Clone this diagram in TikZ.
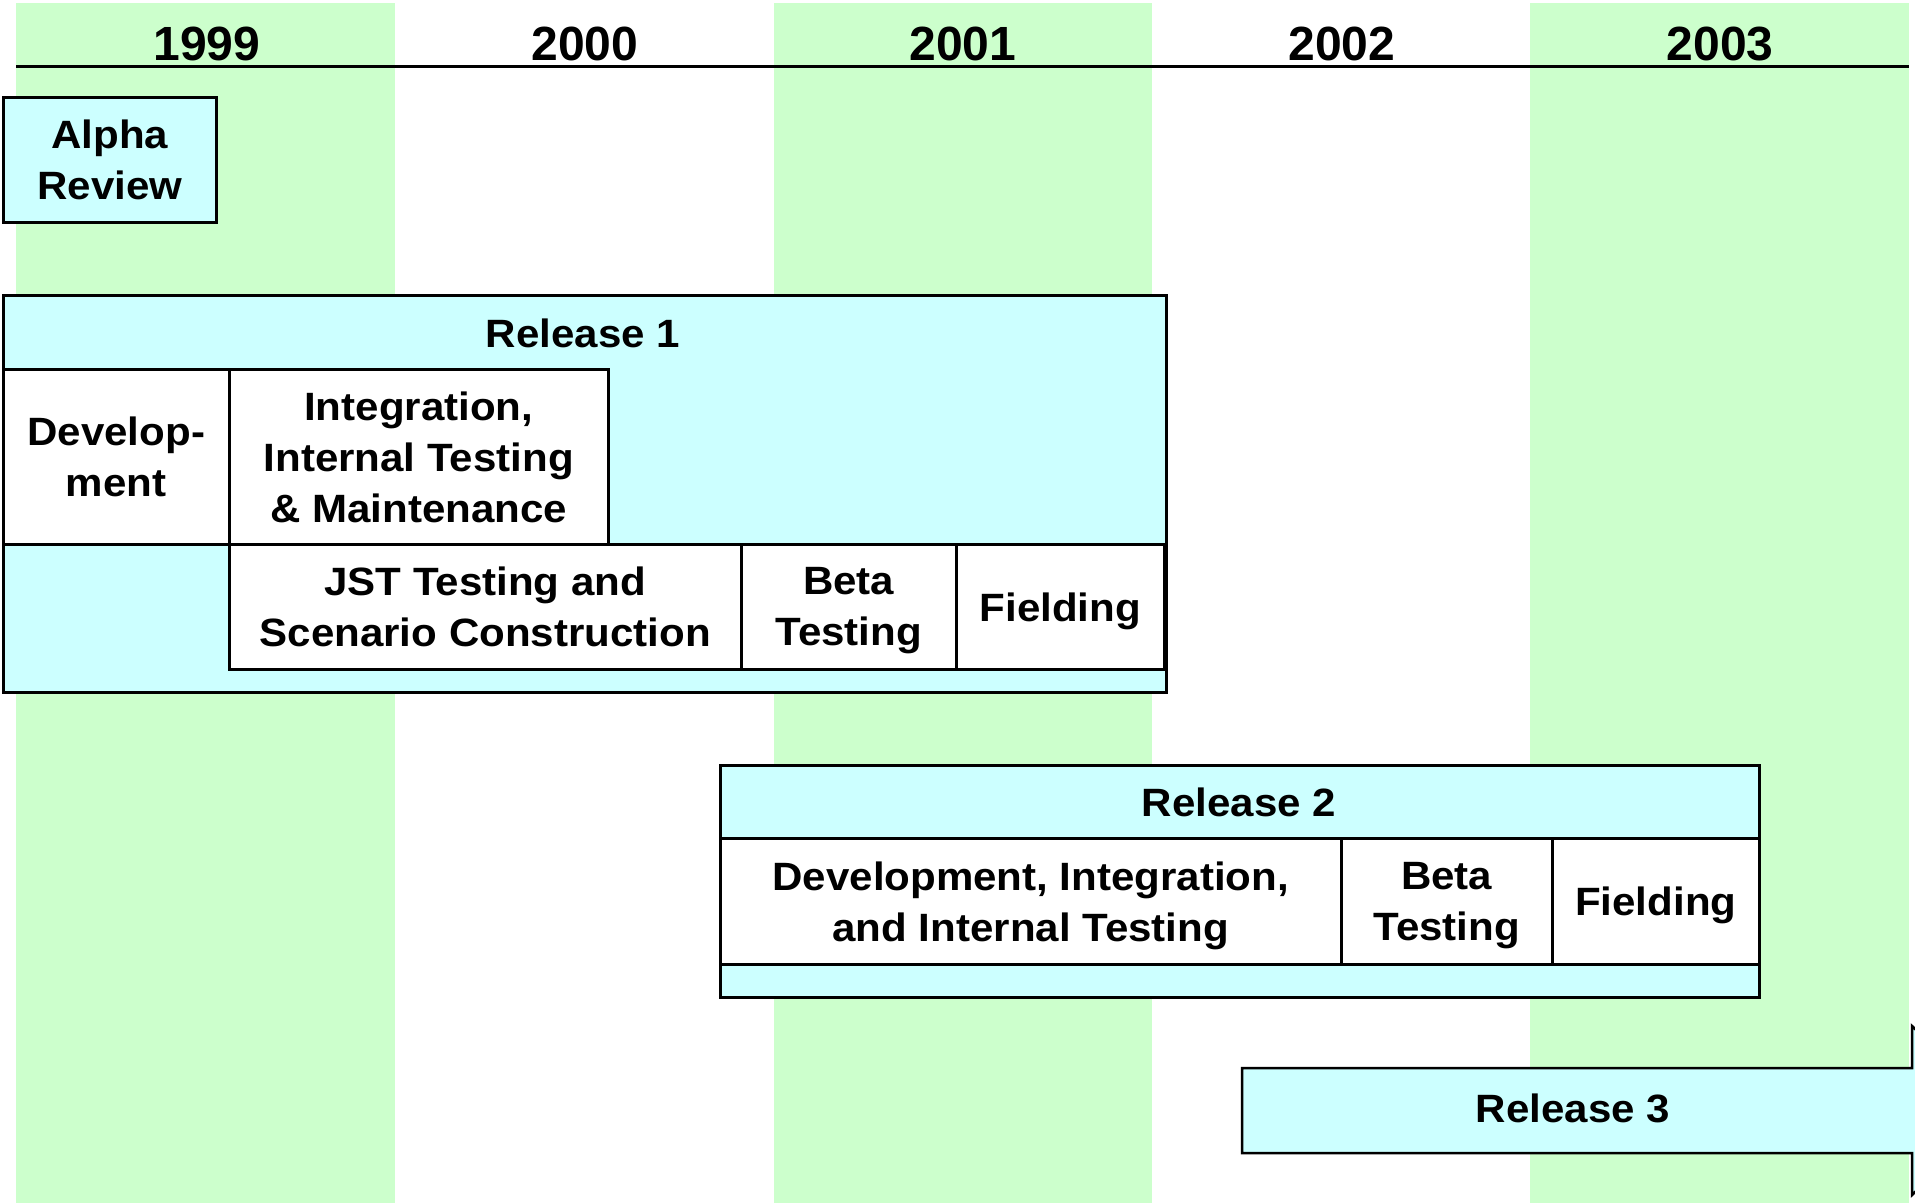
\documentclass[tikz,border=0pt]{standalone}
\usepackage{fontspec}
\setmainfont{Liberation Sans}
\newfontfamily\boxfont{Liberation Sans}[FakeStretch=1.065]
\begin{document}
\begin{tikzpicture}[x=1pt,y=-1pt,
  box/.style={draw=black, line width=2.5pt, inner sep=0pt, anchor=north west, align=center,
    text depth=0pt, font=\fontsize{39.5}{51}\boxfont\bfseries},
  cyanbox/.style={box, fill=cyanfill},
  whitebox/.style={box, fill=white},
  lbl/.style={inner sep=0pt, align=center, font=\fontsize{39.5}{51}\boxfont\bfseries},
  yearlbl/.style={inner sep=0pt, anchor=base, font=\fontsize{48}{58}\selectfont\bfseries},
]
\definecolor{greenfill}{HTML}{CCFFCC}
\definecolor{cyanfill}{HTML}{CCFFFF}
\useasboundingbox (0,0) rectangle (1915,1203);
\fill[white] (0,0) rectangle (1915,1203);
% stripes
\fill[greenfill] (16,3) rectangle (395,1203);
\fill[greenfill] (774,3) rectangle (1152,1203);
\fill[greenfill] (1530,3) rectangle (1909,1203);
% timeline
\coordinate (tl) at (16,66);
\coordinate (tr) at (1909,66);
\draw[line width=3pt] (tl) -- (tr);
\node[yearlbl] (y1999) at (207,60) {1999};
\node[yearlbl] (y2000) at (585,60) {2000};
\node[yearlbl] (y2001) at (963,60) {2001};
\node[yearlbl] (y2002) at (1342,60) {2002};
\node[yearlbl] (y2003) at (1720,60) {2003};
% Alpha review
\node[cyanbox, minimum width=213pt, minimum height=125pt] (alpha) at (2,96) {Alpha\\Review};
% Release 1
\node[cyanbox, minimum width=1163pt, minimum height=397pt] (r1) at (2,294) {};
\node[lbl] (r1lbl) at (583,333) {Release 1};
\node[whitebox, minimum width=226pt, minimum height=175pt] (dev1) at (2,368) {Develop-\\ment};
\node[whitebox, minimum width=379pt, minimum height=175pt] (int1) at (228,368) {Integration,\\Internal Testing\\\& Maintenance};
\node[whitebox, minimum width=512pt, minimum height=125pt] (jst1) at (228,543) {JST Testing and\\Scenario Construction};
\node[whitebox, minimum width=215pt, minimum height=125pt] (beta1) at (740,543) {Beta\\Testing};
\node[whitebox, minimum width=208pt, minimum height=125pt] (field1) at (955,543) {Fielding};
% Release 2
\node[cyanbox, minimum width=1039pt, minimum height=232pt] (r2) at (719,764) {};
\node[lbl] (r2lbl) at (1239,802) {Release 2};
\node[whitebox, minimum width=621pt, minimum height=126pt] (dev2) at (719,837) {Development, Integration,\\and Internal Testing};
\node[whitebox, minimum width=211pt, minimum height=126pt] (beta2) at (1340,837) {Beta\\Testing};
\node[whitebox, minimum width=207pt, minimum height=126pt] (field2) at (1551,837) {Fielding};
% Release 3 (block arrow, clipped at the page edge)
\begin{scope}
\clip (0,0) rectangle (1915,1203);
\filldraw[fill=cyanfill, draw=black, line width=2.5pt]
  (1242,1068) -- (1912,1068) -- (1912,1026) -- (2000,1110) -- (1912,1195) -- (1912,1153) -- (1242,1153) -- cycle;
\end{scope}
\node[lbl] (r3lbl) at (1573,1108) {Release 3};
\end{tikzpicture}
\end{document}
